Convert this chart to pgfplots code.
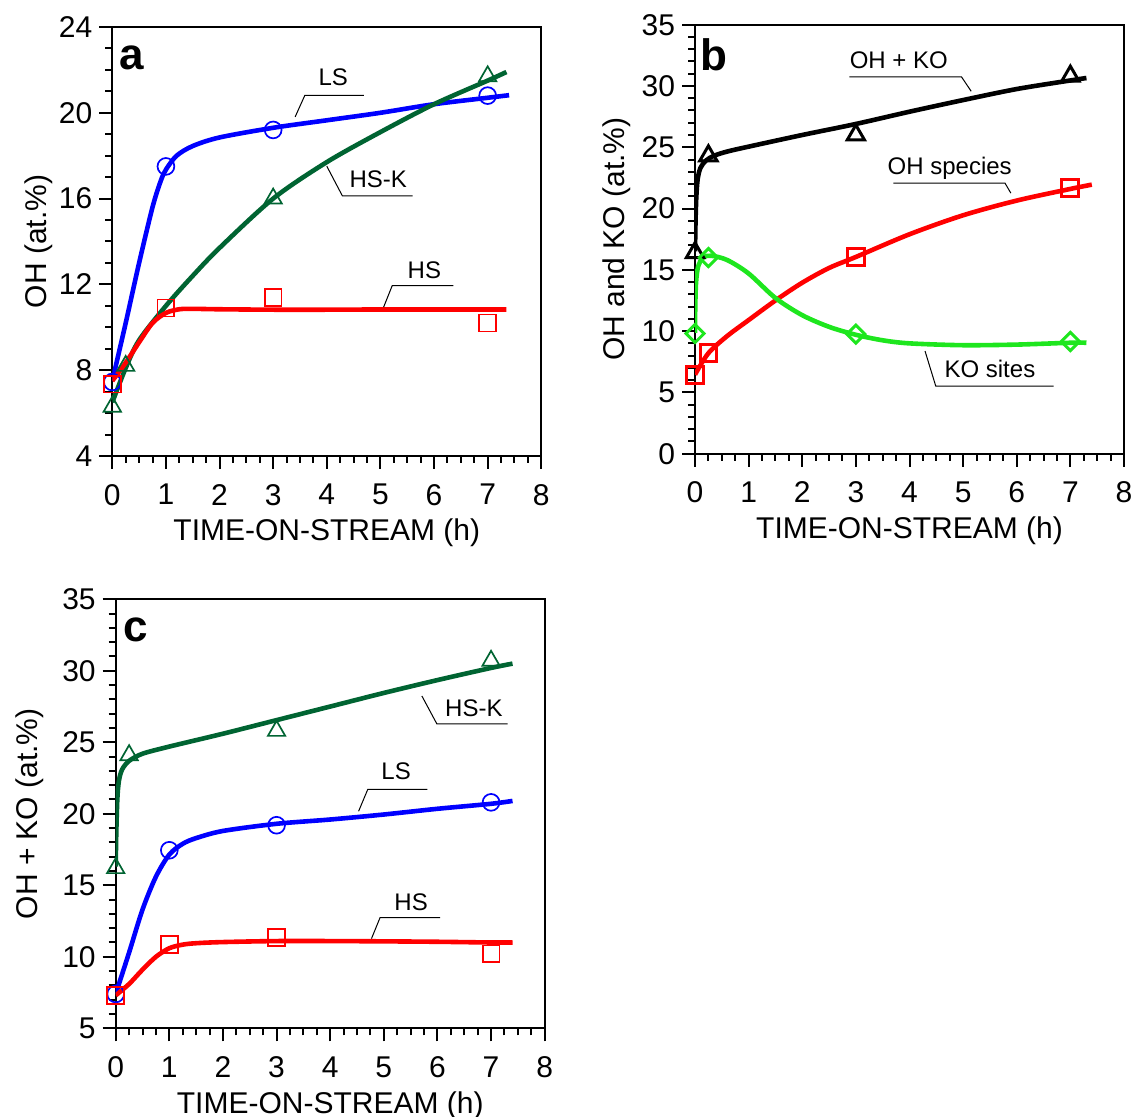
\documentclass[border=0pt]{standalone}
\usepackage{fontspec}
\setmainfont{Liberation Sans}
\usepackage{pgfplots}
\pgfplotsset{compat=1.18}
\definecolor{dkgreen}{RGB}{0,100,50}
\definecolor{ltgreen}{RGB}{30,230,30}
\definecolor{myblue}{RGB}{0,0,255}
\definecolor{myred}{RGB}{255,0,0}
\pgfplotsset{
  panel/.style={
    scale only axis, width=214.5pt, height=214.5pt,
    anchor=south west,
    axis line style={line width=1pt},
    every tick/.append style={black, line width=1pt},
    tick align=outside, tick pos=left,
    major tick length=6.5pt, minor tick length=3.5pt,
    xmin=0, xmax=8, xtick={0,...,8}, minor x tick num=3,
    ticklabel style={font=\fontsize{15}{18}\selectfont},
    xticklabel style={yshift=-4pt},
    label style={font=\fontsize{15}{18}\selectfont},
    /pgf/number format/assume math mode=true,
    xlabel={TIME-ON-STREAM (h)},
    xlabel style={at={(axis description cs:0.5,-0.198)}, anchor=base},
  },
  curve/.style={line width=2.3pt, smooth, no markers},
  pts/.style={only marks, mark size=4.2pt, mark options={line width=0.85pt, fill=none}},
  ptsb/.style={only marks, mark size=4.2pt, mark options={line width=1.5pt, fill=none}},
  tri/.style={mark=triangle, mark size=5pt},
}
\newcommand{\ann}{\fontsize{12}{14}\selectfont}
\newcommand{\pl}{\fontsize{22}{24}\selectfont\bfseries}
\begin{document}
\begin{tikzpicture}
\useasboundingbox (0,0) rectangle (567pt,558.5pt);
% ---------------- panel a
\begin{axis}[panel, at={(56.15pt,330.5pt)},
  ymin=4, ymax=24, ytick={4,8,...,24}, minor y tick num=3,
  ylabel={OH (at.\%)},
  ylabel style={at={(axis description cs:-0.153,0.5)}, anchor=base}]
\addplot[curve, myblue] coordinates {(0,7.5) (0.25,10.2) (0.5,13.0) (0.75,15.6) (0.9,16.8) (1,17.35) (1.2,18.0) (1.5,18.45) (2,18.85) (3,19.3) (4,19.65) (5,20.0) (6,20.4) (7,20.7) (7.4,20.82)};
\addplot[curve, dkgreen] coordinates {(0,6.5) (0.25,8.1) (0.5,9.4) (1,11.0) (1.5,12.4) (2,13.7) (3,16.0) (4,17.7) (5,19.1) (6,20.4) (7,21.5) (7.35,21.9)};
\addplot[curve, myred] coordinates {(0,7.5) (0.25,8.35) (0.5,9.3) (0.75,10.2) (1,10.67) (1.25,10.84) (1.5,10.86) (2,10.84) (3,10.82) (4,10.82) (5,10.83) (6,10.83) (7,10.83) (7.35,10.83)};
\addplot[pts, myblue, mark=o] coordinates {(0,7.45) (1,17.5) (3,19.2) (7,20.8)};
\addplot[pts, dkgreen, tri] coordinates {(0,6.3) (0.25,8.2) (3,16.0) (7,21.7)};
\addplot[pts, myred, mark=square] coordinates {(0,7.35) (1,10.9) (3,11.4) (7,10.2)};
\draw[line width=0.5pt] (axis cs:3.41,19.81) -- (axis cs:3.59,20.81) -- (axis cs:4.69,20.81);
\node[anchor=base] at (axis cs:4.12,21.29) {\ann LS};
\draw[line width=0.5pt] (axis cs:4.0,17.51) -- (axis cs:4.29,16.13) -- (axis cs:5.60,16.13);
\node[anchor=base] at (axis cs:4.96,16.51) {\ann HS-K};
\draw[line width=0.5pt] (axis cs:5.06,10.94) -- (axis cs:5.22,11.94) -- (axis cs:6.36,11.94);
\node[anchor=base] at (axis cs:5.82,12.27) {\ann HS};
\node[anchor=base] at (axis cs:0.37,22.0) {\pl a};
\end{axis}
% ---------------- panel b
\begin{axis}[panel, at={(347.5pt,331.65pt)},
  ymin=0, ymax=35, ytick={0,5,...,35}, minor y tick num=4,
  ylabel={OH and KO (at.\%)},
  ylabel style={at={(axis description cs:-0.165,0.5)}, anchor=base}]
\addplot[curve, black] coordinates {(0,16.5) (0.01,19.0) (0.025,21.0) (0.05,22.4) (0.1,23.3) (0.2,23.9) (0.35,24.3) (0.6,24.65) (1,25.05) (2,26.0) (3,26.9) (4,27.9) (5,28.85) (6,29.75) (7,30.45) (7.3,30.65)};
\addplot[curve, myred] coordinates {(0,6.45) (0.25,8.2) (0.6,9.6) (1,10.9) (1.5,12.5) (2,13.95) (2.5,15.15) (3,16.05) (4,17.9) (5,19.45) (6,20.65) (7,21.6) (7.4,21.95)};
\addplot[curve, ltgreen] coordinates {(0,9.85) (0.005,12.0) (0.02,14.0) (0.06,15.3) (0.15,16.0) (0.3,16.15) (0.6,15.8) (1,14.7) (1.5,12.7) (2,11.3) (2.5,10.35) (3,9.7) (3.5,9.25) (4,9.0) (5,8.85) (6,8.9) (7,9.05) (7.3,9.05)};
\addplot[ptsb, black, tri] coordinates {(0,16.4) (0.25,24.3) (3,26.0) (7,30.8)};
\addplot[ptsb, myred, mark=square] coordinates {(0,6.45) (0.25,8.2) (3,16.05) (7,21.7)};
\addplot[only marks, ltgreen, mark=square, mark size=3.2pt, mark options={rotate=45, line width=1.5pt, fill=none}] coordinates {(0,9.8) (0.25,16.0) (3,9.75) (7,9.15)};
\draw[line width=0.5pt] (axis cs:2.88,30.74) -- (axis cs:4.97,30.74) -- (axis cs:5.15,29.57);
\node[anchor=base] at (axis cs:3.80,31.41) {\ann OH + KO};
\draw[line width=0.5pt] (axis cs:3.70,22.08) -- (axis cs:5.78,22.08) -- (axis cs:5.89,21.26);
\node[anchor=base] at (axis cs:4.75,22.8) {\ann OH species};
\draw[line width=0.5pt] (axis cs:4.29,8.37) -- (axis cs:4.49,5.51) -- (axis cs:6.69,5.51);
\node[anchor=base] at (axis cs:5.50,6.24) {\ann KO sites};
\node[anchor=base] at (axis cs:0.36,31.26) {\pl b};
\end{axis}
% ---------------- panel c
\begin{axis}[panel, at={(57.85pt,44.35pt)},
  ymin=5, ymax=35, ytick={5,10,...,35}, minor y tick num=4,
  ylabel={OH + KO (at.\%)},
  ylabel style={at={(axis description cs:-0.182,0.5)}, anchor=base}]
\addplot[curve, dkgreen] coordinates {(0,16.3) (0.01,18.5) (0.03,21.0) (0.06,22.3) (0.12,23.1) (0.25,23.7) (0.5,24.2) (1,24.7) (2,25.6) (3,26.55) (4,27.5) (5,28.45) (6,29.35) (7,30.2) (7.4,30.5)};
\addplot[curve, myblue] coordinates {(0,7.4) (0.25,10.3) (0.5,13.3) (0.75,15.6) (1,17.15) (1.25,17.9) (1.5,18.3) (2,18.8) (3,19.3) (4,19.6) (5,19.95) (6,20.35) (7,20.7) (7.4,20.9)};
\addplot[curve, myred] coordinates {(0,7.3) (0.25,8.1) (0.5,9.1) (0.75,10.0) (1,10.6) (1.25,10.85) (1.5,10.95) (2,11.03) (3,11.1) (4,11.1) (5,11.08) (6,11.05) (7,11.0) (7.4,11.0)};
\addplot[pts, dkgreen, tri] coordinates {(0,16.2) (0.25,24.1) (3,25.8) (7,30.7)};
\addplot[pts, myblue, mark=o] coordinates {(0,7.4) (1,17.45) (3,19.2) (7,20.8)};
\addplot[pts, myred, mark=square] coordinates {(0,7.3) (1,10.85) (3,11.35) (7,10.2)};
\draw[line width=0.5pt] (axis cs:5.71,28.24) -- (axis cs:5.99,26.28) -- (axis cs:7.31,26.28);
\node[anchor=base] at (axis cs:6.68,26.82) {\ann HS-K};
\draw[line width=0.5pt] (axis cs:4.53,20.18) -- (axis cs:4.70,21.7) -- (axis cs:5.81,21.7);
\node[anchor=base] at (axis cs:5.23,22.38) {\ann LS};
\draw[line width=0.5pt] (axis cs:4.77,11.27) -- (axis cs:4.93,12.74) -- (axis cs:6.05,12.74);
\node[anchor=base] at (axis cs:5.51,13.23) {\ann HS};
\node[anchor=base] at (axis cs:0.38,32.02) {\pl c};
\end{axis}
\end{tikzpicture}
\end{document}
